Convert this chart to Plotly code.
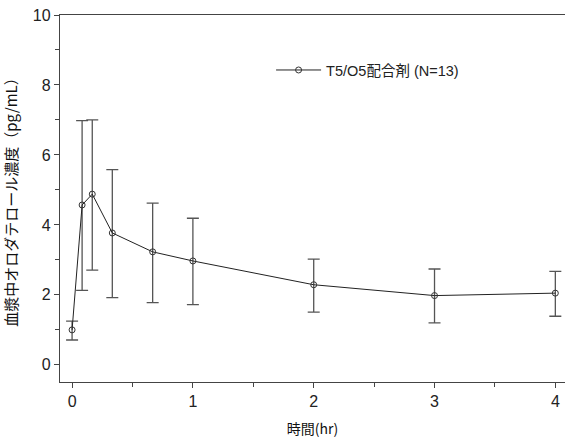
import plotly.graph_objects as go

time_hr = [0, 0.083, 0.167, 0.333, 0.667, 1, 2, 3, 4]
mean_conc = [1.0, 4.57, 4.88, 3.77, 3.23, 2.97, 2.29, 1.98, 2.05]
upper_bar = [1.25, 6.98, 7.0, 5.58, 4.62, 4.19, 3.02, 2.74, 2.67]
lower_bar = [0.71, 2.13, 2.71, 1.92, 1.78, 1.72, 1.51, 1.2, 1.39]
series_name = "T5/O5配合剤 (N=13)"
x_ticks = [0, 1, 2, 3, 4]
y_ticks = [0, 2, 4, 6, 8, 10]

err_plus = [u - m for u, m in zip(upper_bar, mean_conc)]
err_minus = [m - l for m, l in zip(mean_conc, lower_bar)]

font_fam = "Liberation Sans, Arial, Noto Sans CJK JP"

fig = go.Figure()
fig.add_trace(go.Scatter(
    x=time_hr, y=mean_conc, mode="lines+markers", name=series_name,
    line=dict(color="#222222", width=1),
    marker=dict(symbol="circle-open", size=6, color="#333333", line=dict(width=1)),
    error_y=dict(type="data", symmetric=False, array=err_plus, arrayminus=err_minus,
                 color="#555555", thickness=1.3, width=6),
    cliponaxis=False,
))

fig.update_layout(
    width=566, height=443,
    margin=dict(l=60, r=1, t=15, b=61),
    paper_bgcolor="white", plot_bgcolor="white",
    font=dict(family=font_fam, color="#222222"),
    showlegend=True,
    legend=dict(x=0.418, y=0.85, xanchor="left", yanchor="middle",
                bgcolor="rgba(0,0,0,0)", font=dict(size=14.5, family="Liberation Sans, Noto Sans CJK JP"),
                itemwidth=45),
)
fig.update_xaxes(
    range=[-0.1, 4.08], tickvals=x_ticks, ticktext=[str(v) for v in x_ticks],
    automargin=False,
    showline=True, linecolor="#444444", linewidth=1.3, mirror=True,
    ticks="outside", ticklen=5, tickcolor="#444444",
    minor=dict(dtick=0.5, tick0=0, ticks="outside", ticklen=4, tickcolor="#444444"),
    showgrid=False, zeroline=False,
    tickfont=dict(size=16),
    title=dict(text="時間(hr)", font=dict(size=14, family="Noto Sans CJK JP", color="#111111"), standoff=14),
)
fig.update_yaxes(
    range=[-0.49, 10], tickvals=y_ticks, ticktext=[str(v) for v in y_ticks],
    automargin=False,
    showline=True, linecolor="#444444", linewidth=1.3,
    ticks="outside", ticklen=5, tickcolor="#444444",
    minor=dict(dtick=1, tick0=1, ticks="outside", ticklen=4, tickcolor="#444444"),
    showgrid=False, zeroline=False,
    tickfont=dict(size=16),
    title=dict(text="血漿中オロダテロール濃度（pg/mL）", font=dict(size=15, family="Noto Sans CJK JP", color="#111111"), standoff=12),
)

fig.write_html("out.html", config={"displayModeBar": False},
               post_script="document.body.style.margin='0';document.body.style.overflow='hidden';")
